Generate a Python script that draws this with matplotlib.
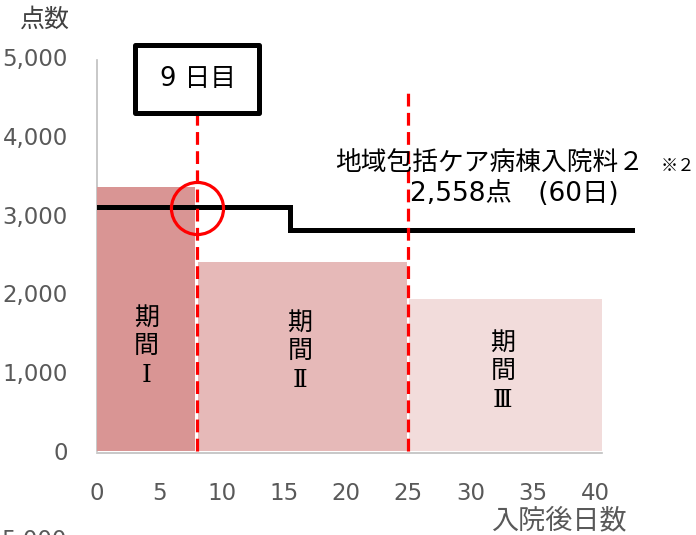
import matplotlib
matplotlib.use("Agg")
import matplotlib.pyplot as plt
from matplotlib.patches import Rectangle

plt.rcParams['font.family'] = ['DejaVu Sans', 'Noto Sans CJK JP']

# ---- data ----
period_labels = ["期\n間\nⅠ", "期\n間\nⅡ", "期\n間\nⅢ"]
period_left = [0, 8.1, 25.1]
period_right = [7.9, 24.9, 40.6]
period_points = [3350, 2400, 1930]
period_colors = ["#D99594", "#E6B9B8", "#F2DCDB"]

line_days = [0.2, 15.5, 15.5, 43]
line_points = [3100, 3100, 2800, 2800]

marker_days = [8, 25]          # red dashed lines
circle_day = 8
circle_points = 3085

xticks = [0, 5, 10, 15, 20, 25, 30, 35, 40]
yticks = [0, 1000, 2000, 3000, 4000, 5000]

W, H = 696, 535
fig = plt.figure(figsize=(W / 100, H / 100), dpi=100)

def fx(px):
    return px / W

def fy(py):
    return 1 - py / H

# axes: x=0 at px 97, 12.45 px/day ; y=0 at py 451, y=5000 at py 57
x_max = 44
ax = fig.add_axes([fx(97), fy(451), x_max * 12.45 / W, (451 - 57) / H])
ax.set_xlim(0, x_max)
ax.set_ylim(0, 5000)
for s in ax.spines.values():
    s.set_visible(False)

# bars
for l, r, v, c in zip(period_left, period_right, period_points, period_colors):
    ax.bar(l, v, width=r - l, align='edge', color=c, edgecolor='none', zorder=1)

# axis lines
ax.plot([0, 0], [0, 4960], color="#BFBFBF", lw=1.2, zorder=0.5, clip_on=False)
ax.plot([0, 40.6], [-25, -25], color="#BFBFBF", lw=1.2, zorder=0.5, clip_on=False)

# period labels
label_pos = [(3.95, 1830), (16.3, 1765), (32.6, 1510)]
for (x, y), t in zip(label_pos, period_labels):
    ax.text(x, y, t, ha='center', va='top', fontsize=18, linespacing=1.3,
            color='black', zorder=5, family=['DejaVu Serif', 'Noto Sans CJK JP'])

# black step line
ax.plot(line_days, line_points, color='black', lw=3.6, solid_joinstyle='miter',
        zorder=3, clip_on=False)

# red dashed lines
ax.plot([marker_days[0]] * 2, [0, 4290], color='#FF0000', lw=2.3,
        dashes=(4, 2), zorder=4, clip_on=False)
ax.plot([marker_days[1]] * 2, [0, 4580], color='#FF0000', lw=2.3,
        dashes=(4, 2), zorder=4, clip_on=False)

# red circle
ax.plot([circle_day], [circle_points], marker='o', ms=37.5, mfc='none',
        mec='#FF0000', mew=2.3, zorder=6, clip_on=False)

# box 9日目
box = Rectangle((3.05, 4290), 13.05 - 3.05, 5150 - 4290, fill=False,
                ec='black', lw=3.6, zorder=7, clip_on=False, joinstyle='round')
ax.add_patch(box)
ax.text(8.15, 4720, "9 日目", ha='center', va='center', fontsize=18.5,
        zorder=8, family=['DejaVu Sans', 'Noto Sans CJK JP'])

# ticks
ax.set_xticks(xticks)
ax.set_xticklabels([str(t) for t in xticks])
ax.set_yticks(yticks)
ax.set_yticklabels([f"{t:,}" for t in yticks])
ax.tick_params(axis='both', length=0, labelsize=16.5, labelcolor='#595959')
ax.tick_params(axis='x', pad=22)
ax.tick_params(axis='y', pad=21)

# annotation text
fig.text(fx(335), fy(163), "地域包括ケア病棟入院料２", ha='left', va='center',
         fontsize=18.5, family=['Noto Sans CJK JP'])
fig.text(fx(661), fy(166), "※２", ha='left', va='center',
         fontsize=12.5, family=['Noto Sans CJK JP'])
fig.text(fx(410), fy(194), "2,558点\u3000(60日)", ha='left', va='center',
         fontsize=19, family=['DejaVu Sans', 'Noto Sans CJK JP'])

# axis titles
fig.text(fx(45), fy(20), "点数", ha='center', va='center', fontsize=18,
         color='#404040', family=['Noto Sans CJK JP'])
fig.text(fx(559), fy(521), "入院後日数", ha='center', va='center', fontsize=19.5,
         color='#595959', family=['Noto Sans CJK JP'])

# clipped label at the very bottom
fig.text(fx(67), fy(529), "5,000", ha='right', va='top', fontsize=16.5,
         color='#595959')

fig.savefig("out.png", dpi=100)
